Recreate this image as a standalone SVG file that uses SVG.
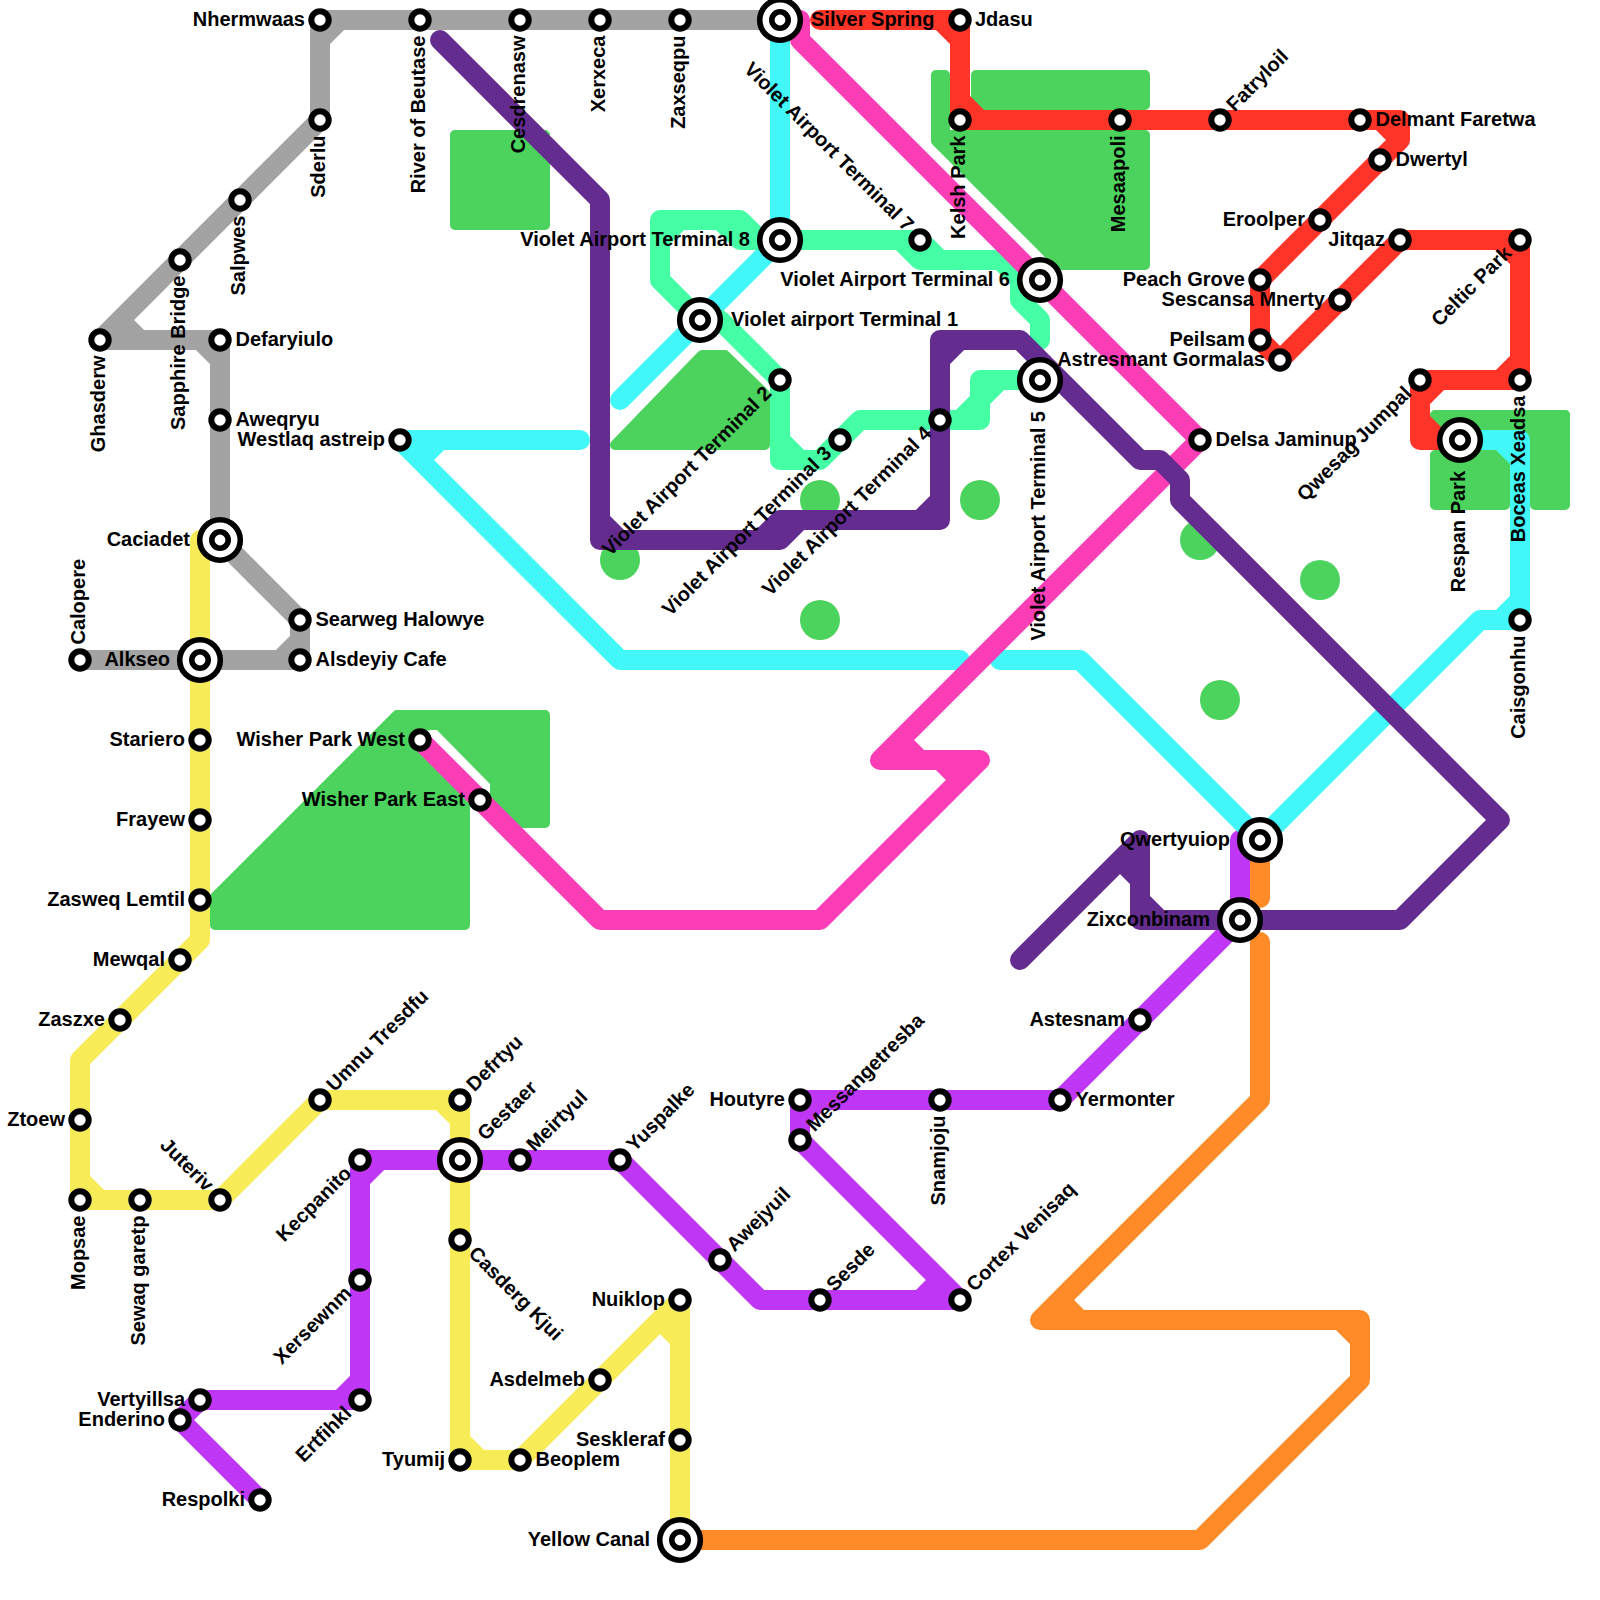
<svg xmlns="http://www.w3.org/2000/svg" width="1600" height="1600" viewBox="0 0 1600 1600">
<style>
.bg{fill:#fff}
.p{fill:#4bd35d;stroke:#4bd35d;stroke-width:10;stroke-linejoin:round}
.c path{fill:none;stroke-width:20;stroke-linejoin:round;stroke-linecap:round}
.s{fill:#fff;stroke:#000;stroke-width:6}
.o{fill:#fff;stroke:#000;stroke-width:5.6}
text{font-family:"Liberation Sans",Arial,sans-serif;font-weight:bold;font-size:20px;fill:#000}
text:not([transform]){transform:translateY(1px)}
.e{text-anchor:end}
</style>
<rect class="bg" width="1600" height="1600"/>
<g id="parks">
<rect class="p" x="455" y="135" width="90" height="90"/>
<polygon class="p" points="615,445 702,355 725,355 765,394 765,445"/>
<polygon class="p" points="936,75 945,75 945,135 1145,135 1145,265 1060,265 936,141"/>
<rect class="p" x="976" y="75" width="169" height="30"/>
<rect class="p" x="1435" y="415" width="130" height="20"/>
<rect class="p" x="1435" y="455" width="70" height="50"/>
<rect class="p" x="1535" y="415" width="30" height="90"/>
<polygon class="p" points="215,897 397,715 545,715 545,823 517,823 495,802 495,782 439,725 430,725 412,728 465,781 465,925 215,925"/>
<circle cx="620" cy="560" r="20" fill="#4bd35d"/>
<circle cx="820" cy="500" r="20" fill="#4bd35d"/>
<circle cx="980" cy="500" r="20" fill="#4bd35d"/>
<circle cx="820" cy="620" r="20" fill="#4bd35d"/>
<circle cx="1200" cy="540" r="20" fill="#4bd35d"/>
<circle cx="1320" cy="580" r="20" fill="#4bd35d"/>
<circle cx="1220" cy="700" r="20" fill="#4bd35d"/>
</g>
<g id="connectors" class="c">
<path id="line-gray" stroke="#a3a3a3" d="M780 20H320V120L100 340H220V540L300 620V660H80M340 20L320 40M120 320L140 340M200 340L220 360M300 640L280 660"/>
<path id="line-yellow" stroke="#f7ec58" d="M200 540V940L80 1060V1200H220L320 1100H460V1460H520L680 1300V1540M80 1180L100 1200M440 1100L460 1120M460 1440L480 1460M660 1320L680 1340"/>
<path id="line-violet" stroke="#bf36f5" d="M260 1500L180 1420L200 1400H360V1160H620L760 1300H960L800 1140V1100H1060L1240 920V840M340 1400L360 1380M360 1180L380 1160M940 1280L920 1300M800 1120L820 1100"/>
<path id="line-orange" stroke="#ff8b28" d="M680 1540H1200L1360 1380V1320H1040L1260 1100V942M1340 1320L1360 1340M1060 1300L1080 1320M1260 840V898"/>
<path id="line-cyan" stroke="#41f7f8" d="M780 20V240L620 400M580 440H400L620 660H960M420 460L440 440M1000 660H1080L1260 840L1480 620H1520V440H1460M1520 600L1500 620M1500 440L1520 460"/>
<path id="line-teal" stroke="#45ffa5" d="M1040 340V320L1020 300V280L1000 260H920V240H740V220H660V280L700 320H720L780 380V460H820L860 420H980V380H1040M900 240L920 260M920 240L940 260M760 240L740 220M740 240L720 220M660 240L680 220M780 440L800 460M960 420L980 400M980 400L1000 380"/>
<path id="line-red" stroke="#ff3429" d="M820 20H960V120H1400V140L1260 280V340L1280 360L1400 240H1520V380H1420V440H1460M940 20L960 40M960 100L980 120M1380 120L1400 140M1500 240L1520 260M1520 360L1500 380M1440 380L1420 400M1420 420L1440 440"/>
<path id="line-pink" stroke="#fb3db6" d="M800 20V40L1200 440L880 760H980L820 920H600L420 740M900 740L920 760M940 760L960 780"/>
<path id="line-purple" stroke="#652c90" d="M440 40L600 200V540H780V520H940V340H1020L1140 460H1160L1180 480V500L1500 820L1400 920H1140V840L1020 960M600 520L620 540M760 540L780 520M780 540L800 520M940 500L920 520M940 360L960 340M1140 900L1160 920M1120 860L1140 880"/>
</g>
<g id="stations">
<g id="n-nhermwaas"><circle class="s" cx="320" cy="20" r="8.7"/><text class="e" x="305" y="25">Nhermwaas</text></g>
<g id="n-river-of-beutase"><circle class="s" cx="420" cy="20" r="8.7"/><text class="e" transform="translate(420 20) rotate(-90)" x="-15.5" y="5">River of Beutase</text></g>
<g id="n-cesdrenasw"><circle class="s" cx="520" cy="20" r="8.7"/><text class="e" transform="translate(520 20) rotate(-90)" x="-15.5" y="5">Cesdrenasw</text></g>
<g id="n-xerxeca"><circle class="s" cx="600" cy="20" r="8.7"/><text class="e" transform="translate(600 20) rotate(-90)" x="-15.5" y="5">Xerxeca</text></g>
<g id="n-zaxseqpu"><circle class="s" cx="680" cy="20" r="8.7"/><text class="e" transform="translate(680 20) rotate(-90)" x="-15.5" y="5">Zaxseqpu</text></g>
<g id="n-silver-spring"><circle class="o" cx="780" cy="20" r="20.3"/><circle class="o" cx="780" cy="20" r="8.2"/><text x="811" y="25">Silver Spring</text></g>
<g id="n-jdasu"><circle class="s" cx="960" cy="20" r="8.7"/><text x="975" y="25">Jdasu</text></g>
<g id="n-kelsh-park"><circle class="s" cx="960" cy="120" r="8.7"/><text class="e" transform="translate(960 120) rotate(-90)" x="-15.5" y="5">Kelsh Park</text></g>
<g id="n-mesaapoli"><circle class="s" cx="1120" cy="120" r="8.7"/><text class="e" transform="translate(1120 120) rotate(-90)" x="-15.5" y="5">Mesaapoli</text></g>
<g id="n-fatryloil"><circle class="s" cx="1220" cy="120" r="8.7"/><text transform="translate(1220 120) rotate(-45)" x="15.5" y="5">Fatryloil</text></g>
<g id="n-delmant-faretwa"><circle class="s" cx="1360" cy="120" r="8.7"/><text x="1375.500" y="125">Delmant Faretwa</text></g>
<g id="n-dwertyl"><circle class="s" cx="1380" cy="160" r="8.7"/><text x="1395.500" y="165">Dwertyl</text></g>
<g id="n-eroolper"><circle class="s" cx="1320" cy="220" r="8.7"/><text class="e" x="1305" y="225">Eroolper</text></g>
<g id="n-peach-grove"><circle class="s" cx="1260" cy="280" r="8.7"/><text class="e" x="1245" y="285">Peach Grove</text></g>
<g id="n-peilsam"><circle class="s" cx="1260" cy="340" r="8.7"/><text class="e" x="1245" y="345">Peilsam</text></g>
<g id="n-astresmant-gormalas"><circle class="s" cx="1280" cy="360" r="8.7"/><text class="e" x="1265" y="365">Astresmant Gormalas</text></g>
<g id="n-sescansa-mnerty"><circle class="s" cx="1340" cy="300" r="8.7"/><text class="e" x="1325" y="305">Sescansa Mnerty</text></g>
<g id="n-jitqaz"><circle class="s" cx="1400" cy="240" r="8.7"/><text class="e" x="1385" y="245">Jitqaz</text></g>
<g id="n-celtic-park"><circle class="s" cx="1520" cy="240" r="8.7"/><text class="e" transform="translate(1520 240) rotate(-45)" x="-15.5" y="5">Celtic Park</text></g>
<g id="n-boceas-xeadsa"><circle class="s" cx="1520" cy="380" r="8.7"/><text class="e" transform="translate(1520 380) rotate(-90)" x="-15.5" y="5">Boceas Xeadsa</text></g>
<g id="n-qwesag-jumpal"><circle class="s" cx="1420" cy="380" r="8.7"/><text class="e" transform="translate(1420 380) rotate(-45)" x="-15.5" y="5">Qwesag Jumpal</text></g>
<g id="n-respan-park"><circle class="o" cx="1460" cy="440" r="20.3"/><circle class="o" cx="1460" cy="440" r="8.2"/><text class="e" transform="translate(1460 440) rotate(-90)" x="-31" y="5">Respan Park</text></g>
<g id="n-delsa-jaminup"><circle class="s" cx="1200" cy="440" r="8.7"/><text x="1215.500" y="445">Delsa Jaminup</text></g>
<g id="n-caisgonhu"><circle class="s" cx="1520" cy="620" r="8.7"/><text class="e" transform="translate(1520 620) rotate(-90)" x="-15.5" y="5">Caisgonhu</text></g>
<g id="n-vat8"><circle class="o" cx="780" cy="240" r="20.3"/><circle class="o" cx="780" cy="240" r="8.2"/><text class="e" x="750" y="245">Violet Airport Terminal 8</text></g>
<g id="n-vat1"><circle class="o" cx="700" cy="320" r="20.3"/><circle class="o" cx="700" cy="320" r="8.2"/><text x="731" y="325">Violet airport Terminal 1</text></g>
<g id="n-vat2"><circle class="s" cx="780" cy="380" r="8.7"/><text class="e" transform="translate(780 380) rotate(-45)" x="-15.5" y="5">Violet Airport Terminal 2</text></g>
<g id="n-vat3"><circle class="s" cx="840" cy="440" r="8.7"/><text class="e" transform="translate(840 440) rotate(-45)" x="-15.5" y="5">Violet Airport Terminal 3</text></g>
<g id="n-vat4"><circle class="s" cx="940" cy="420" r="8.7"/><text class="e" transform="translate(940 420) rotate(-45)" x="-15.5" y="5">Violet Airport Terminal 4</text></g>
<g id="n-vat5"><circle class="o" cx="1040" cy="380" r="20.3"/><circle class="o" cx="1040" cy="380" r="8.2"/><text class="e" transform="translate(1040 380) rotate(-90)" x="-31" y="5">Violet Airport Terminal 5</text></g>
<g id="n-vat6"><circle class="o" cx="1040" cy="280" r="20.3"/><circle class="o" cx="1040" cy="280" r="8.2"/><text class="e" x="1010" y="285">Violet Airport Terminal 6</text></g>
<g id="n-vat7"><circle class="s" cx="920" cy="240" r="8.7"/><text class="e" transform="translate(920 240) rotate(45)" x="-15.5" y="5">Violet Airport Terminal 7</text></g>
<g id="n-westlaq-astreip"><circle class="s" cx="400" cy="440" r="8.7"/><text class="e" x="385" y="445">Westlaq astreip</text></g>
<g id="n-sderlu"><circle class="s" cx="320" cy="120" r="8.7"/><text class="e" transform="translate(320 120) rotate(-90)" x="-15.5" y="5">Sderlu</text></g>
<g id="n-salpwes"><circle class="s" cx="240" cy="200" r="8.7"/><text class="e" transform="translate(240 200) rotate(-90)" x="-15.5" y="5">Salpwes</text></g>
<g id="n-sapphire-bridge"><circle class="s" cx="180" cy="260" r="8.7"/><text class="e" transform="translate(180 260) rotate(-90)" x="-15.5" y="5">Sapphire Bridge</text></g>
<g id="n-ghasderw"><circle class="s" cx="100" cy="340" r="8.7"/><text class="e" transform="translate(100 340) rotate(-90)" x="-15.5" y="5">Ghasderw</text></g>
<g id="n-defaryiulo"><circle class="s" cx="220" cy="340" r="8.7"/><text x="235.500" y="345">Defaryiulo</text></g>
<g id="n-aweqryu"><circle class="s" cx="220" cy="420" r="8.7"/><text x="235.500" y="425">Aweqryu</text></g>
<g id="n-caciadet"><circle class="o" cx="220" cy="540" r="20.3"/><circle class="o" cx="220" cy="540" r="8.2"/><text class="e" x="190" y="545">Caciadet</text></g>
<g id="n-searweg-halowye"><circle class="s" cx="300" cy="620" r="8.7"/><text x="315.500" y="625">Searweg Halowye</text></g>
<g id="n-alsdeyiy-cafe"><circle class="s" cx="300" cy="660" r="8.7"/><text x="315.500" y="665">Alsdeyiy Cafe</text></g>
<g id="n-alkseo"><circle class="o" cx="200" cy="660" r="20.3"/><circle class="o" cx="200" cy="660" r="8.2"/><text class="e" x="170" y="665">Alkseo</text></g>
<g id="n-calopere"><circle class="s" cx="80" cy="660" r="8.7"/><text transform="translate(80 660) rotate(-90)" x="15.5" y="5">Calopere</text></g>
<g id="n-stariero"><circle class="s" cx="200" cy="740" r="8.7"/><text class="e" x="185" y="745">Stariero</text></g>
<g id="n-frayew"><circle class="s" cx="200" cy="820" r="8.7"/><text class="e" x="185" y="825">Frayew</text></g>
<g id="n-zasweq-lemtil"><circle class="s" cx="200" cy="900" r="8.7"/><text class="e" x="185" y="905">Zasweq Lemtil</text></g>
<g id="n-mewqal"><circle class="s" cx="180" cy="960" r="8.7"/><text class="e" x="165" y="965">Mewqal</text></g>
<g id="n-zaszxe"><circle class="s" cx="120" cy="1020" r="8.7"/><text class="e" x="105" y="1025">Zaszxe</text></g>
<g id="n-ztoew"><circle class="s" cx="80" cy="1120" r="8.7"/><text class="e" x="65" y="1125">Ztoew</text></g>
<g id="n-mopsae"><circle class="s" cx="80" cy="1200" r="8.7"/><text class="e" transform="translate(80 1200) rotate(-90)" x="-15.5" y="5">Mopsae</text></g>
<g id="n-sewaq-garetp"><circle class="s" cx="140" cy="1200" r="8.7"/><text class="e" transform="translate(140 1200) rotate(-90)" x="-15.5" y="5">Sewaq garetp</text></g>
<g id="n-juteriv"><circle class="s" cx="220" cy="1200" r="8.7"/><text class="e" transform="translate(220 1200) rotate(45)" x="-15.5" y="5">Juteriv</text></g>
<g id="n-umnu-tresdfu"><circle class="s" cx="320" cy="1100" r="8.7"/><text transform="translate(320 1100) rotate(-45)" x="15.5" y="5">Umnu Tresdfu</text></g>
<g id="n-defrtyu"><circle class="s" cx="460" cy="1100" r="8.7"/><text transform="translate(460 1100) rotate(-45)" x="15.5" y="5">Defrtyu</text></g>
<g id="n-gestaer"><circle class="o" cx="460" cy="1160" r="20.3"/><circle class="o" cx="460" cy="1160" r="8.2"/><text transform="translate(460 1160) rotate(-45)" x="31" y="5">Gestaer</text></g>
<g id="n-meirtyul"><circle class="s" cx="520" cy="1160" r="8.7"/><text transform="translate(520 1160) rotate(-45)" x="15.5" y="5">Meirtyul</text></g>
<g id="n-yuspalke"><circle class="s" cx="620" cy="1160" r="8.7"/><text transform="translate(620 1160) rotate(-45)" x="15.5" y="5">Yuspalke</text></g>
<g id="n-awejyuil"><circle class="s" cx="720" cy="1260" r="8.7"/><text transform="translate(720 1260) rotate(-45)" x="15.5" y="5">Awejyuil</text></g>
<g id="n-sesde"><circle class="s" cx="820" cy="1300" r="8.7"/><text transform="translate(820 1300) rotate(-45)" x="15.5" y="5">Sesde</text></g>
<g id="n-cortex-venisaq"><circle class="s" cx="960" cy="1300" r="8.7"/><text transform="translate(960 1300) rotate(-45)" x="15.5" y="5">Cortex Venisaq</text></g>
<g id="n-messangetresba"><circle class="s" cx="800" cy="1140" r="8.7"/><text transform="translate(800 1140) rotate(-45)" x="15.5" y="5">Messangetresba</text></g>
<g id="n-houtyre"><circle class="s" cx="800" cy="1100" r="8.7"/><text class="e" x="785" y="1105">Houtyre</text></g>
<g id="n-snamjoju"><circle class="s" cx="940" cy="1100" r="8.7"/><text class="e" transform="translate(940 1100) rotate(-90)" x="-15.5" y="5">Snamjoju</text></g>
<g id="n-yermonter"><circle class="s" cx="1060" cy="1100" r="8.7"/><text x="1075.500" y="1105">Yermonter</text></g>
<g id="n-astesnam"><circle class="s" cx="1140" cy="1020" r="8.7"/><text class="e" x="1125" y="1025">Astesnam</text></g>
<g id="n-zixconbinam"><circle class="o" cx="1240" cy="920" r="20.3"/><circle class="o" cx="1240" cy="920" r="8.2"/><text class="e" x="1210" y="925">Zixconbinam</text></g>
<g id="n-qwertyuiop"><circle class="o" cx="1260" cy="840" r="20.3"/><circle class="o" cx="1260" cy="840" r="8.2"/><text class="e" x="1230" y="845">Qwertyuiop</text></g>
<g id="n-kecpanito"><circle class="s" cx="360" cy="1160" r="8.7"/><text class="e" transform="translate(360 1160) rotate(-45)" x="-15.5" y="5">Kecpanito</text></g>
<g id="n-xersewnm"><circle class="s" cx="360" cy="1280" r="8.7"/><text class="e" transform="translate(360 1280) rotate(-45)" x="-15.5" y="5">Xersewnm</text></g>
<g id="n-ertfihkl"><circle class="s" cx="360" cy="1400" r="8.7"/><text class="e" transform="translate(360 1400) rotate(-45)" x="-15.5" y="5">Ertfihkl</text></g>
<g id="n-vertyillsa"><circle class="s" cx="200" cy="1400" r="8.7"/><text class="e" x="185" y="1405">Vertyillsa</text></g>
<g id="n-enderino"><circle class="s" cx="180" cy="1420" r="8.7"/><text class="e" x="165" y="1425">Enderino</text></g>
<g id="n-respolki"><circle class="s" cx="260" cy="1500" r="8.7"/><text class="e" x="245" y="1505">Respolki</text></g>
<g id="n-casderg-kjui"><circle class="s" cx="460" cy="1240" r="8.7"/><text transform="translate(460 1240) rotate(45)" x="15.5" y="5">Casderg Kjui</text></g>
<g id="n-tyumij"><circle class="s" cx="460" cy="1460" r="8.7"/><text class="e" x="445" y="1465">Tyumij</text></g>
<g id="n-beoplem"><circle class="s" cx="520" cy="1460" r="8.7"/><text x="535.500" y="1465">Beoplem</text></g>
<g id="n-asdelmeb"><circle class="s" cx="600" cy="1380" r="8.7"/><text class="e" x="585" y="1385">Asdelmeb</text></g>
<g id="n-nuiklop"><circle class="s" cx="680" cy="1300" r="8.7"/><text class="e" x="665" y="1305">Nuiklop</text></g>
<g id="n-seskleraf"><circle class="s" cx="680" cy="1440" r="8.7"/><text class="e" x="665" y="1445">Seskleraf</text></g>
<g id="n-yellow-canal"><circle class="o" cx="680" cy="1540" r="20.3"/><circle class="o" cx="680" cy="1540" r="8.2"/><text class="e" x="650" y="1545">Yellow Canal</text></g>
<g id="n-wisher-park-west"><circle class="s" cx="420" cy="740" r="8.7"/><text class="e" x="405" y="745">Wisher Park West</text></g>
<g id="n-wisher-park-east"><circle class="s" cx="480" cy="800" r="8.7"/><text class="e" x="465" y="805">Wisher Park East</text></g>
</g>
</svg>
